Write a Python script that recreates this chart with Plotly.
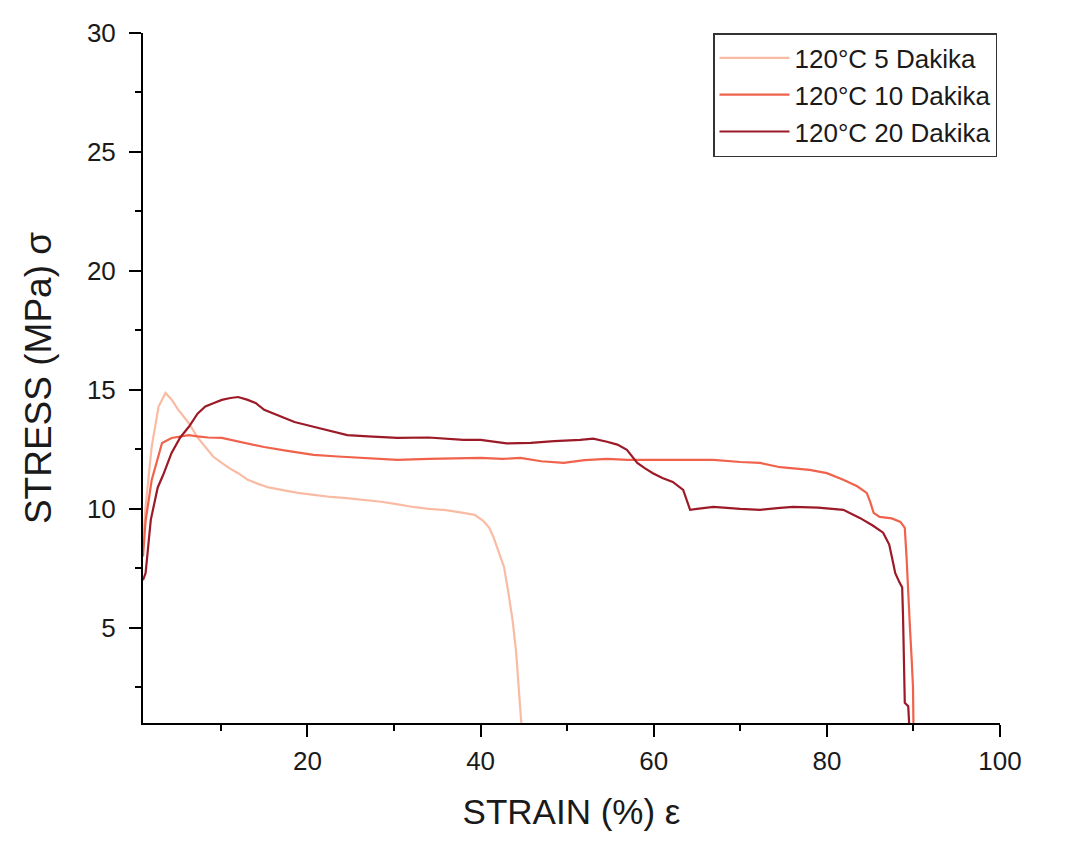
import plotly.graph_objects as go

# ---- data ----
x_5 = [1.0, 1.3, 2.0, 2.8, 3.6, 4.3, 5.0, 5.7, 6.3, 7.3, 8.2, 9.1, 10.1, 11.0, 12.0, 13.1,
       14.3, 15.5, 17.0, 18.9, 20.5, 22.7, 24.5, 26.5, 28.5, 30.3, 32.2, 34.0, 36.0, 38.0,
       39.3, 40.3, 41.0, 41.5, 42.0, 42.7, 43.2, 43.7, 44.1, 44.4, 44.6, 44.7]
y_5 = [8.5, 10.1, 12.6, 14.3, 14.87, 14.6, 14.2, 13.9, 13.6, 13.0, 12.6, 12.2, 11.93, 11.7,
       11.5, 11.22, 11.05, 10.9, 10.8, 10.67, 10.6, 10.5, 10.45, 10.38, 10.3, 10.2, 10.08,
       10.0, 9.95, 9.83, 9.75, 9.5, 9.2, 8.8, 8.3, 7.56, 6.5, 5.3, 4.0, 2.5, 1.5, 1.0]

x_10 = [1.0, 1.3, 2.0, 3.2, 4.3, 5.3, 6.3, 7.3, 8.5, 10.1, 11.1, 13.0, 15.0, 17.5, 20.7, 23.5,
        26.5, 30.4, 34.0, 38.0, 40.0, 42.5, 44.6, 47.0, 49.6, 52.0, 54.6, 57.0, 59.2, 62.0,
        64.5, 66.9, 70.0, 72.3, 74.6, 76.5, 78.0, 80.0, 81.9, 83.5, 84.6, 85.0, 85.4, 86.1,
        87.5, 88.5, 89.0, 89.2, 89.4, 89.6, 89.8, 89.95, 90.0]
y_10 = [8.0, 9.5, 11.2, 12.77, 12.98, 13.05, 13.1, 13.05, 13.0, 12.98, 12.9, 12.75, 12.6,
        12.45, 12.27, 12.2, 12.14, 12.06, 12.1, 12.14, 12.14, 12.1, 12.14, 12.0, 11.93, 12.05,
        12.1, 12.06, 12.06, 12.05, 12.04, 12.06, 11.97, 11.93, 11.75, 11.7, 11.64, 11.5, 11.22,
        10.95, 10.67, 10.3, 9.83, 9.66, 9.6, 9.45, 9.2, 8.0, 6.3, 5.0, 3.66, 2.5, 1.0]

x_20 = [1.0, 1.3, 1.9, 2.7, 3.3, 4.3, 5.3, 6.3, 7.3, 8.2, 9.2, 10.1, 11.1, 12.0, 13.1, 14.0,
        15.0, 16.9, 18.5, 20.7, 22.5, 24.6, 27.0, 30.4, 34.0, 38.0, 40.0, 43.0, 45.8, 48.5,
        51.5, 53.0, 54.6, 55.8, 56.9, 58.1, 59.0, 59.9, 61.0, 62.2, 63.4, 63.8, 64.2, 65.0,
        66.9, 70.0, 72.3, 74.6, 76.1, 79.0, 81.9, 83.8, 85.3, 86.5, 87.2, 87.5, 87.9, 88.4,
        88.7, 88.8, 88.9, 89.0, 89.4, 89.5]
y_20 = [7.0, 7.3, 9.54, 10.9, 11.4, 12.35, 13.0, 13.45, 14.0, 14.3, 14.45, 14.58, 14.66, 14.7,
        14.58, 14.45, 14.16, 13.87, 13.65, 13.45, 13.3, 13.1, 13.05, 12.98, 13.0, 12.9, 12.9,
        12.75, 12.77, 12.85, 12.9, 12.95, 12.82, 12.7, 12.48, 11.93, 11.7, 11.5, 11.3, 11.13,
        10.8, 10.4, 9.96, 10.0, 10.08, 10.0, 9.96, 10.04, 10.08, 10.05, 9.96, 9.62, 9.3, 9.0,
        8.5, 8.0, 7.3, 6.9, 6.7, 5.46, 3.5, 1.85, 1.7, 1.0]

series_names = ["120°C 5 Dakika", "120°C 10 Dakika", "120°C 20 Dakika"]
series_colors = ["#F9BBA3", "#F0624C", "#9C1A27"]

x_tickvals = [20, 40, 60, 80, 100]
y_tickvals = [5, 10, 15, 20, 25, 30]

FONT = "Liberation Sans, Arial, sans-serif"
TXT = "#1a1a1a"

fig = go.Figure()
for xs, ys, name, color in zip([x_5, x_10, x_20], [y_5, y_10, y_20], series_names, series_colors):
    fig.add_trace(go.Scatter(x=xs, y=ys, mode="lines", name=name,
                             line=dict(color=color, width=2.2)))

axis_common = dict(
    showline=True, linecolor="black", linewidth=2, mirror=False,
    ticks="outside", ticklen=12, tickwidth=2, tickcolor="black",
    showgrid=False, zeroline=False,
    tickfont=dict(family=FONT, size=26, color=TXT),
)

fig.update_layout(
    width=1087, height=845,
    margin=dict(l=143, r=87, t=33, b=122),
    paper_bgcolor="white", plot_bgcolor="white",
    font=dict(family=FONT, color=TXT),
    xaxis=dict(range=[1, 100], tickvals=x_tickvals, ticklabelstandoff=2,
               minor=dict(dtick=10, tick0=0, ticks="outside", ticklen=6, tickwidth=2, tickcolor="black"),
               title=dict(text="STRAIN (%) ε", font=dict(family=FONT, size=35, color=TXT), standoff=24),
               **axis_common),
    yaxis=dict(range=[1, 30], tickvals=y_tickvals, ticklabelstandoff=8,
               minor=dict(dtick=2.5, tick0=0, ticks="outside", ticklen=6, tickwidth=2, tickcolor="black"),
               title=dict(text="STRESS (MPa) σ", font=dict(family=FONT, size=37, color=TXT), standoff=24),
               **axis_common),
    legend=dict(x=0.9965, y=1.0, xanchor="right", yanchor="top",
                bordercolor="#333333", borderwidth=1.5, bgcolor="white",
                font=dict(family=FONT, size=26, color=TXT),
                tracegroupgap=0, itemwidth=70),
    showlegend=True,
)

fig.write_html("out.html")
